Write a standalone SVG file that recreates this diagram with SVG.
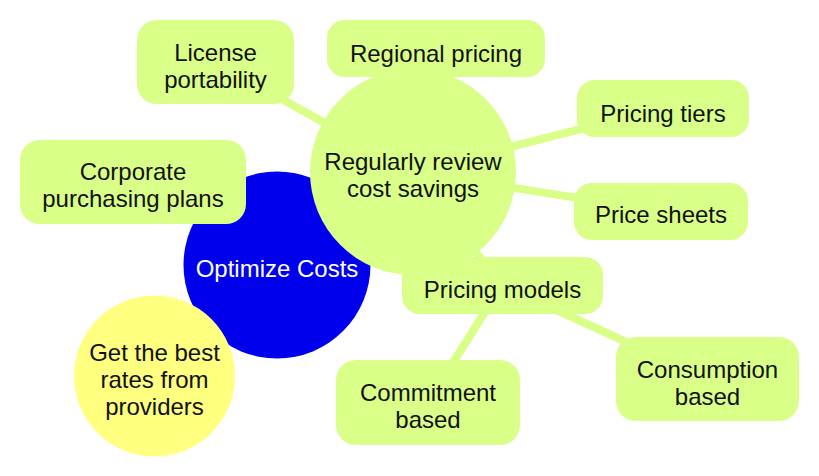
<svg xmlns="http://www.w3.org/2000/svg" width="819" height="476" viewBox="0 0 819 476">
<style>
.edge{stroke:#D9FF88;stroke-width:8;stroke-linecap:round;fill:none}
.g{fill:#D9FF88}
.t{font-family:"Liberation Sans","Open Sans",sans-serif;font-size:24px;fill:#111;text-anchor:middle}
.w{fill:#fff}
</style>
<rect width="819" height="476" fill="#fff"/>
<g id="connectors">
<line class="edge" x1="277" y1="265" x2="413" y2="172"/>
<line class="edge" x1="277" y1="265" x2="133" y2="182"/>
<line class="edge" x1="277" y1="265" x2="154" y2="376"/>
<line class="edge" x1="413" y1="172" x2="215" y2="62"/>
<line class="edge" x1="413" y1="172" x2="436" y2="48"/>
<line class="edge" x1="413" y1="172" x2="663" y2="108"/>
<line class="edge" x1="413" y1="172" x2="661" y2="211"/>
<line class="edge" x1="413" y1="172" x2="502" y2="285"/>
<line class="edge" x1="502" y1="285" x2="428" y2="402"/>
<line class="edge" x1="502" y1="285" x2="707" y2="379"/>
</g>
<g id="root">
<circle cx="277" cy="265" r="93.5" fill="#0000EC"/>
<text class="t w" x="277" y="277">Optimize Costs</text>
</g>
<g id="corporate">
<rect class="g" x="20" y="140" width="226" height="84" rx="20"/>
<text class="t" x="133" y="180">Corporate</text>
<text class="t" x="133" y="207">purchasing plans</text>
</g>
<g id="bestrates">
<circle cx="154.5" cy="376" r="80.5" fill="#FFFF80"/>
<text class="t" x="154.5" y="361">Get the best</text>
<text class="t" x="154.5" y="388">rates from</text>
<text class="t" x="154.5" y="415">providers</text>
</g>
<g id="review">
<circle class="g" cx="413" cy="172" r="103"/>
<text class="t" x="413" y="170">Regularly review</text>
<text class="t" x="413" y="197">cost savings</text>
</g>
<g id="license">
<rect class="g" x="137" y="20" width="157" height="84" rx="20"/>
<text class="t" x="215.5" y="61">License</text>
<text class="t" x="215.5" y="88">portability</text>
</g>
<g id="regional">
<rect class="g" x="327" y="20" width="218" height="57" rx="18"/>
<text class="t" x="436" y="62">Regional pricing</text>
</g>
<g id="tiers">
<rect class="g" x="577" y="80" width="172" height="57" rx="18"/>
<text class="t" x="663" y="122">Pricing tiers</text>
</g>
<g id="sheets">
<rect class="g" x="574" y="183" width="174" height="57" rx="18"/>
<text class="t" x="661" y="223">Price sheets</text>
</g>
<g id="models">
<rect class="g" x="402" y="257" width="201" height="57" rx="18"/>
<text class="t" x="502.5" y="298">Pricing models</text>
</g>
<g id="commitment">
<rect class="g" x="336" y="360" width="184" height="85" rx="20"/>
<text class="t" x="428" y="401">Commitment</text>
<text class="t" x="428" y="428">based</text>
</g>
<g id="consumption">
<rect class="g" x="616" y="337" width="183" height="84" rx="20"/>
<text class="t" x="707.5" y="378">Consumption</text>
<text class="t" x="707.5" y="405">based</text>
</g>
</svg>
